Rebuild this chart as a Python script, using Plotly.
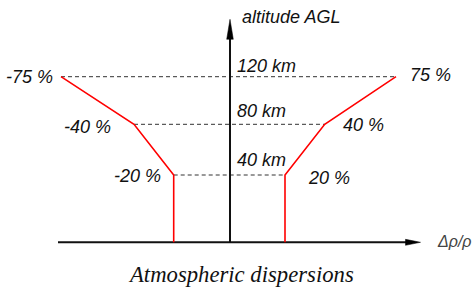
import plotly.graph_objects as go

# ---- data (schematic diagram) ----
altitude_labels = ["40 km", "80 km", "120 km"]
altitude_pos = [67.3, 118.0, 165.6]          # schematic heights of the 40/80/120 km levels
neg_labels = ["-20 %", "-40 %", "-75 %"]
neg_pos = [-56.3, -96.0, -169.0]             # schematic positions of negative dispersions
pos_labels = ["20 %", "40 %", "75 %"]
pos_pos = [55.0, 94.7, 166.0]                # schematic positions of positive dispersions
title_text = "Atmospheric dispersions"
y_axis_title = "altitude AGL"
x_axis_title = "Δρ/ρ"

# ---- style / layout constants ----
W, H = 472, 291
X_RANGE = [-230, 242]
Y_RANGE = [-48.7, 242.3]
AX_LEFT, AX_RIGHT, AX_TOP = -172, 190.5, 223
HEAD_LEN_V, HEAD_HALF_V = 20, 3.3
HEAD_LEN_H, HEAD_HALF_H = 15, 3.0
SANS = "Liberation Sans, Arial, sans-serif"
SERIF = "Liberation Serif, Times New Roman, serif"

fig = go.Figure()

# dashed altitude guide lines
for yv, xl, xr in zip(altitude_pos, neg_pos, pos_pos):
    fig.add_trace(go.Scatter(x=[xl, xr], y=[yv, yv], mode="lines",
                             line=dict(color="#333333", width=1, dash="4px,3px"),
                             hoverinfo="skip", showlegend=False))

# axes lines
fig.add_trace(go.Scatter(x=[0, 0], y=[0, AX_TOP - HEAD_LEN_V + 2], mode="lines",
                         line=dict(color="#111111", width=2), hoverinfo="skip", showlegend=False))
fig.add_trace(go.Scatter(x=[AX_LEFT, AX_RIGHT - HEAD_LEN_H + 2], y=[0, 0], mode="lines",
                         line=dict(color="#111111", width=2), hoverinfo="skip", showlegend=False))
# arrow heads
fig.add_trace(go.Scatter(x=[-HEAD_HALF_V, 0, HEAD_HALF_V, -HEAD_HALF_V],
                         y=[AX_TOP - HEAD_LEN_V, AX_TOP, AX_TOP - HEAD_LEN_V, AX_TOP - HEAD_LEN_V],
                         mode="lines", fill="toself", fillcolor="#000000",
                         line=dict(color="#000000", width=0.5), hoverinfo="skip", showlegend=False))
fig.add_trace(go.Scatter(x=[AX_RIGHT - HEAD_LEN_H, AX_RIGHT, AX_RIGHT - HEAD_LEN_H, AX_RIGHT - HEAD_LEN_H],
                         y=[-HEAD_HALF_H, 0, HEAD_HALF_H, -HEAD_HALF_H],
                         mode="lines", fill="toself", fillcolor="#000000",
                         line=dict(color="#000000", width=0.5), hoverinfo="skip", showlegend=False))

# red dispersion envelopes
for xs in (neg_pos, pos_pos):
    fig.add_trace(go.Scatter(x=[xs[0]] + list(xs), y=[0] + list(altitude_pos), mode="lines",
                             line=dict(color="#ff0000", width=1.6), hoverinfo="skip", showlegend=False))

ann = []
lab_font = dict(family=SANS, size=18, color="#111111")
# altitude labels
km_dy = [15.3, 13.1, 10.8]
for lbl, yv, dy in zip(altitude_labels, altitude_pos, km_dy):
    ann.append(dict(x=5.3, y=yv + dy, text=f"<i>{lbl}</i>", xanchor="left", yanchor="middle",
                    showarrow=False, font=lab_font))
# negative labels
neg_dx = [-10.4, -20.7, -6.0]
neg_dy = [-0.5, -2.4, -0.3]
for lbl, xv, yv, dx, dy in zip(neg_labels, neg_pos, altitude_pos, neg_dx, neg_dy):
    ann.append(dict(x=xv + dx, y=yv + dy, text=f"<i>{lbl}</i>", xanchor="right", yanchor="middle",
                    showarrow=False, font=lab_font))
# positive labels
pos_dx = [21.0, 16.3, 11.7]
pos_dy = [-3.0, -0.2, 1.7]
for lbl, xv, yv, dx, dy in zip(pos_labels, pos_pos, altitude_pos, pos_dx, pos_dy):
    ann.append(dict(x=xv + dx, y=yv + dy, text=f"<i>{lbl}</i>", xanchor="left", yanchor="middle",
                    showarrow=False, font=lab_font))
# axis titles
ann.append(dict(x=10.3, y=AX_TOP + 2.8, text=f"<i>{y_axis_title}</i>", xanchor="left", yanchor="middle",
                showarrow=False, font=lab_font))
ann.append(dict(x=AX_RIGHT + 14.5, y=0.8, text=f"<i>{x_axis_title}</i>", xanchor="left", yanchor="middle",
                showarrow=False, font=dict(family=SANS, size=16, color="#444444")))
# chart caption
ann.append(dict(x=11, y=-32.4, text=f"<i>{title_text}</i>", xanchor="center", yanchor="middle",
                showarrow=False, font=dict(family=SERIF, size=22.7, color="#111111")))

fig.update_layout(
    width=W, height=H, margin=dict(l=0, r=0, t=0, b=0),
    paper_bgcolor="white", plot_bgcolor="white",
    xaxis=dict(range=X_RANGE, visible=False, fixedrange=True),
    yaxis=dict(range=Y_RANGE, visible=False, fixedrange=True),
    annotations=ann, showlegend=False,
)

fig.write_html("out.html", config={"displayModeBar": False},
               post_script="document.body.style.margin='0';document.body.style.overflow='hidden';")
